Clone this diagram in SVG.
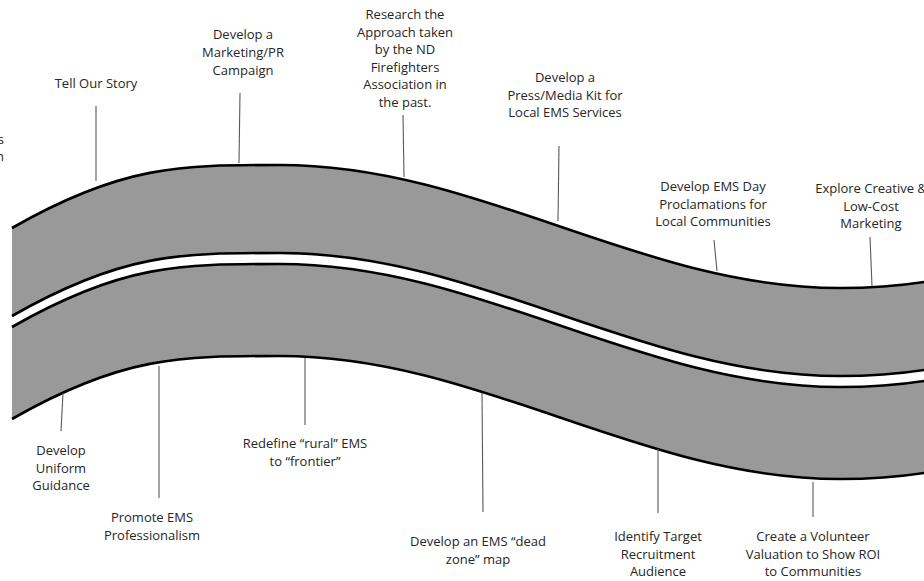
<svg xmlns="http://www.w3.org/2000/svg" width="924" height="581" viewBox="0 0 924 581">
<style>
.band{fill:#999999;stroke:none}
.edge{fill:none;stroke:#000;stroke-width:2.6}
.lead{stroke:#595959;stroke-width:1.1;fill:none}
text{font-family:"Open Sans","Liberation Sans",sans-serif;font-size:13px;fill:#262626;text-anchor:middle}
</style>
<defs>
<path id="edgeT" d="M12,228 C122,165 180,165 280,165 C480,165 640,288 840,288 C870,288 900,286 930,281"/>
</defs>
<g id="bands">
<path class="band" d="M12,228 C122,165 180,165 280,165 C480,165 640,288 840,288 C870,288 900,286 930,281 L930,369 C900,374 870,376 840,376 C640,376 480,253 280,253 C180,253 122,253 12,316 Z"/>
<path class="band" d="M12,327 C122,264 180,264 280,264 C480,264 640,387 840,387 C870,387 900,385 930,380 L930,472 C900,477 870,479 840,479 C640,479 480,356 280,356 C180,356 122,356 12,419 Z"/>
<use href="#edgeT" class="edge"/>
<use href="#edgeT" class="edge" transform="translate(0,88)"/>
<use href="#edgeT" class="edge" transform="translate(0,99)"/>
<use href="#edgeT" class="edge" transform="translate(0,191)"/>
</g>
<g id="connectors">
<line class="lead" x1="96" y1="106" x2="96" y2="181"/>
<line class="lead" x1="240" y1="93" x2="239" y2="163"/>
<line class="lead" x1="403" y1="115" x2="404" y2="177"/>
<line class="lead" x1="559" y1="146" x2="558" y2="221"/>
<line class="lead" x1="714" y1="240" x2="717" y2="271"/>
<line class="lead" x1="870" y1="237" x2="872" y2="286"/>
<line class="lead" x1="63" y1="393" x2="61" y2="431"/>
<line class="lead" x1="159" y1="366" x2="159" y2="498"/>
<line class="lead" x1="305" y1="358" x2="305" y2="425"/>
<line class="lead" x1="482" y1="393" x2="483" y2="512"/>
<line class="lead" x1="658" y1="449" x2="658" y2="513"/>
<line class="lead" x1="813" y1="482" x2="813" y2="517"/>
</g>
<g id="label-cut"><text x="4" y="144" style="text-anchor:end">s</text><text x="4" y="161" style="text-anchor:end">n</text></g>
<g id="tell-our-story"><text x="96" y="88">Tell Our Story</text></g>
<g id="marketing-pr"><text x="243" y="39">Develop a</text><text x="243" y="57">Marketing/PR</text><text x="243" y="75">Campaign</text></g>
<g id="research"><text x="405" y="19">Research the</text><text x="405" y="36.6">Approach taken</text><text x="405" y="54.2">by the ND</text><text x="405" y="71.8">Firefighters</text><text x="405" y="89.4">Association in</text><text x="405" y="107">the past.</text></g>
<g id="press-kit"><text x="565" y="82">Develop a</text><text x="565" y="99.6">Press/Media Kit for</text><text x="565" y="117.2">Local EMS Services</text></g>
<g id="ems-day"><text x="713" y="191">Develop EMS Day</text><text x="713" y="208.6">Proclamations for</text><text x="713" y="226.2">Local Communities</text></g>
<g id="explore"><text x="871" y="193">Explore Creative &amp;</text><text x="871" y="210.6">Low-Cost</text><text x="871" y="228.2">Marketing</text></g>
<g id="uniform-guidance"><text x="61" y="455">Develop</text><text x="61" y="472.6">Uniform</text><text x="61" y="490.2">Guidance</text></g>
<g id="promote"><text x="152" y="522">Promote EMS</text><text x="152" y="539.6">Professionalism</text></g>
<g id="redefine"><text x="305" y="448">Redefine “rural” EMS</text><text x="305" y="465.6">to “frontier”</text></g>
<g id="dead-zone"><text x="478" y="546">Develop an EMS “dead</text><text x="478" y="563.6">zone” map</text></g>
<g id="identify"><text x="658" y="541">Identify Target</text><text x="658" y="558.6">Recruitment</text><text x="658" y="576.2">Audience</text></g>
<g id="volunteer"><text x="813" y="541">Create a Volunteer</text><text x="813" y="558.6">Valuation to Show ROI</text><text x="813" y="576.2">to Communities</text></g>
</svg>
